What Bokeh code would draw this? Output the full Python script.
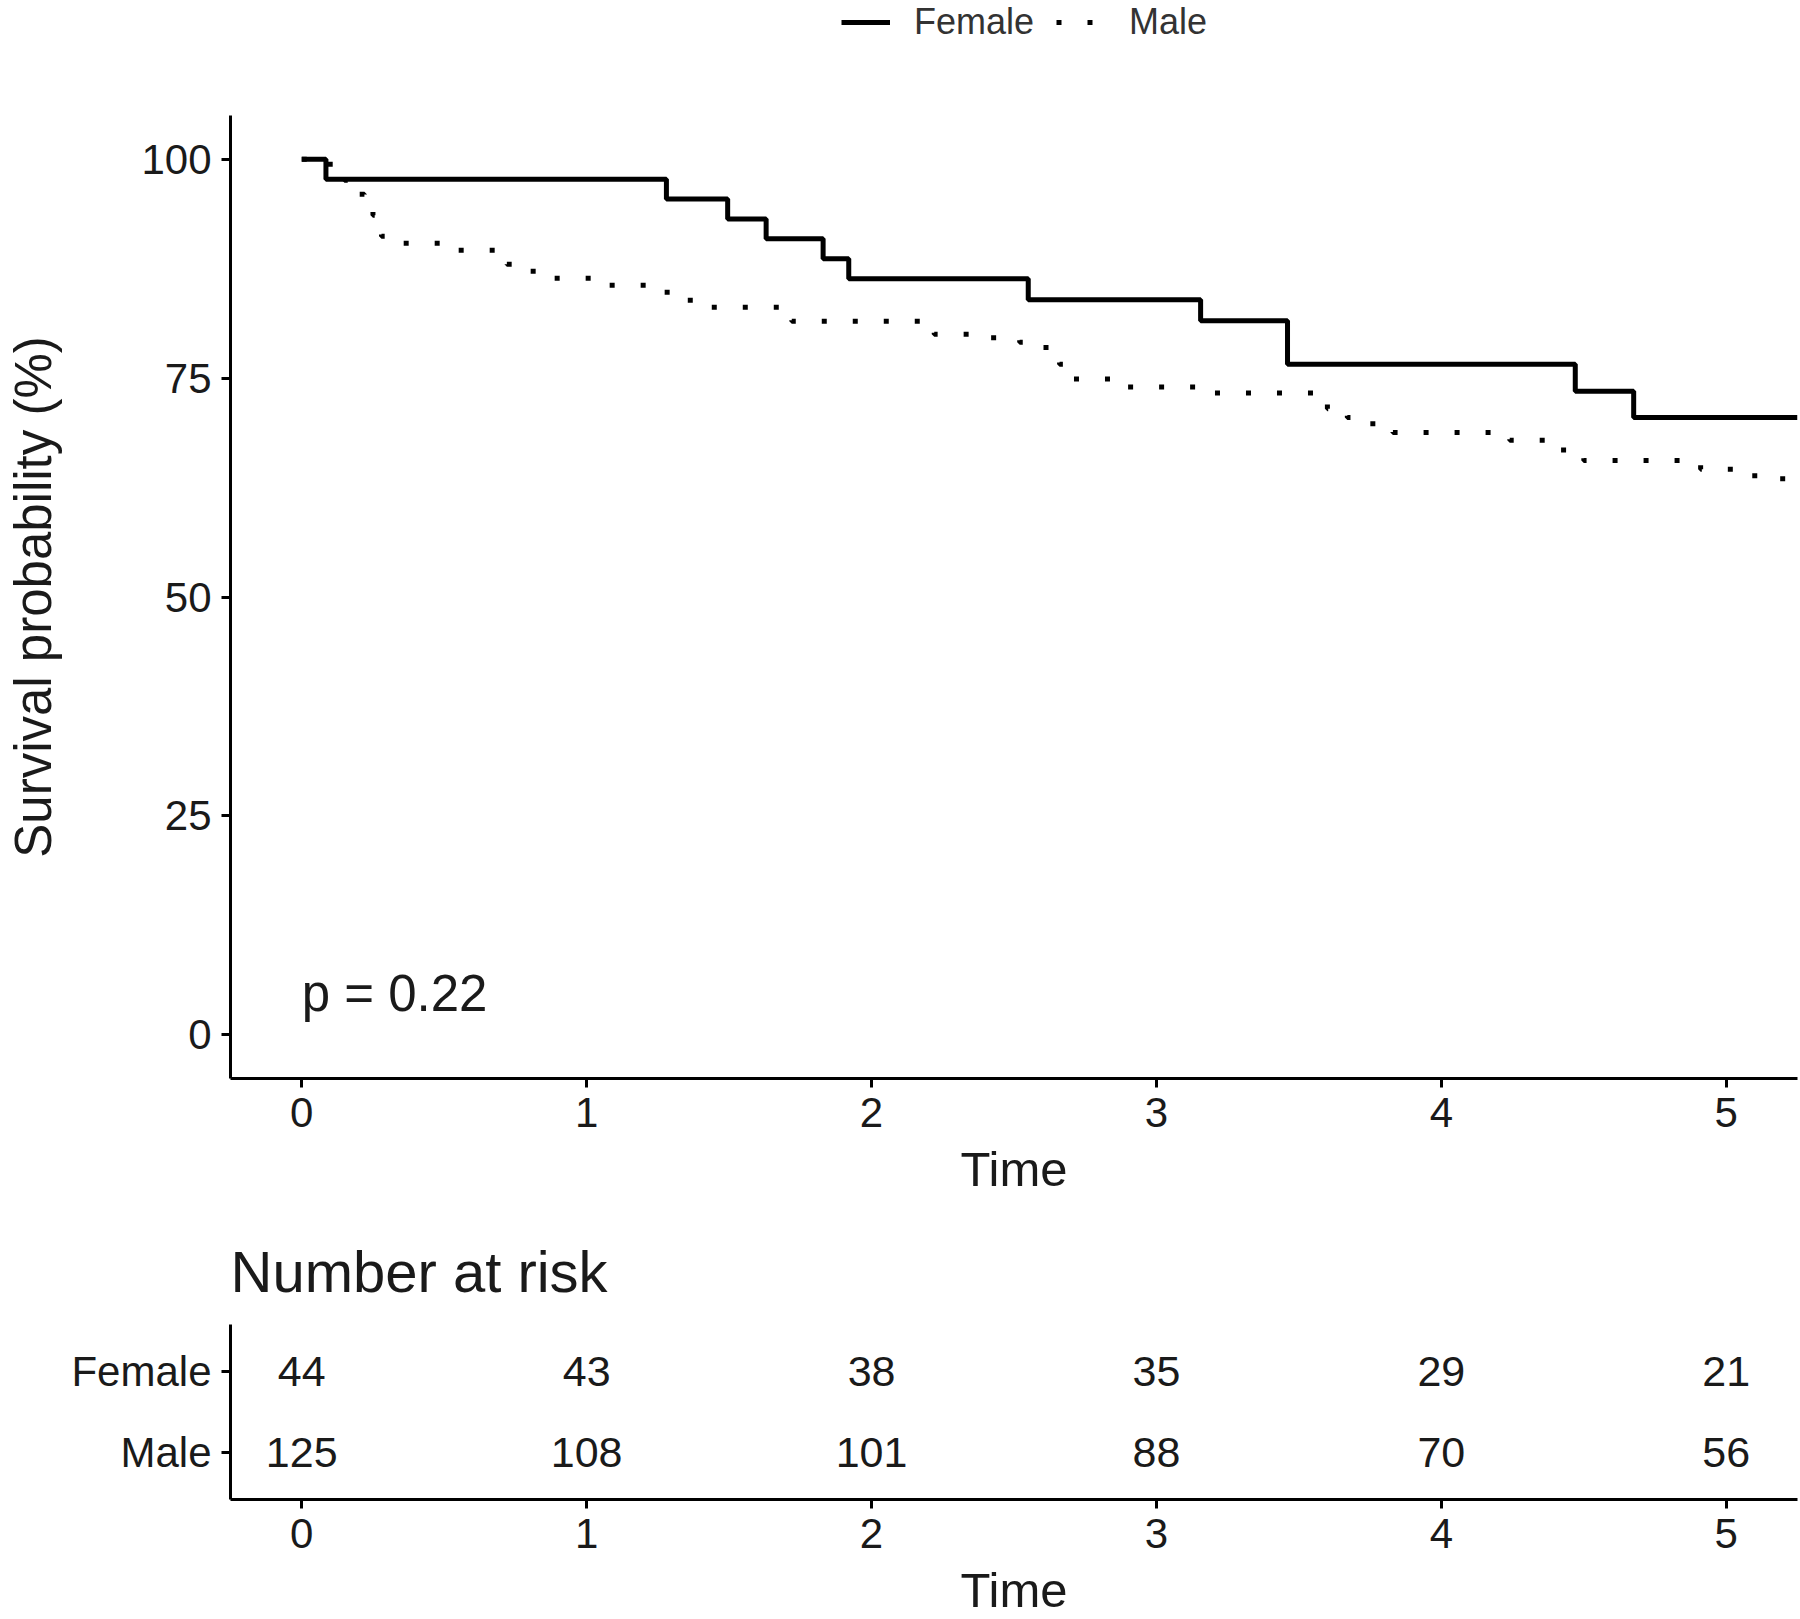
from bokeh.plotting import figure
from bokeh.models import Range1d, Legend, LegendItem, FixedTicker, Title
from bokeh.layouts import column
from bokeh.embed import file_html
from bokeh.resources import INLINE
from bokeh.core.properties import value

# ---- data ----
groups = ["Female", "Male"]
female_time = [0, 0.085, 1.28, 1.495, 1.63, 1.83, 1.92, 2.55, 3.155, 3.46, 4.47, 4.675, 5.25]
female_surv = [100, 97.73, 95.45, 93.18, 90.91, 88.64, 86.36, 83.96, 81.56, 76.6, 73.5, 70.5, 70.5]
male_time = [0, 0.10, 0.15, 0.18, 0.22, 0.25, 0.28, 0.35, 0.50, 0.72, 0.80, 0.88, 1.08, 1.26,
             1.34, 1.42, 1.72, 2.22, 2.40, 2.52, 2.60, 2.66, 2.71, 2.88, 3.18, 3.60, 3.67,
             3.75, 3.83, 4.24, 4.42, 4.50, 4.91, 5.10, 5.25]
male_surv = [100, 98.4, 97.6, 96.0, 95.2, 93.6, 91.2, 90.4, 89.6, 88.0, 87.2, 86.4, 85.6, 84.8,
             83.9, 83.1, 81.5, 80.0, 79.6, 79.1, 78.5, 76.6, 74.9, 74.0, 73.3, 71.5, 70.5,
             69.8, 68.8, 67.9, 66.8, 65.6, 64.6, 63.5, 63.5]
risk_time = [0, 1, 2, 3, 4, 5]
risk_female = [44, 43, 38, 35, 29, 21]
risk_male = [125, 108, 101, 88, 70, 56]
y_ticks = [0, 25, 50, 75, 100]
x_ticks = [0, 1, 2, 3, 4, 5]
p_text = "p = 0.22"
p_pos = (0.0, 4.7)

FONT = "Liberation Sans"
TXT = "#1a1a1a"
FEMALE_STYLE = dict(line_color="black", line_width=5)
MALE_STYLE = dict(line_color="black", line_width=5, line_dash="5 26", line_cap="butt")


def style_axes(fig):
    for ax in (fig.xaxis[0], fig.yaxis[0]):
        ax.axis_line_width = 3
        ax.axis_line_color = "black"
        ax.major_tick_line_width = 3
        ax.major_tick_line_color = "black"
        ax.major_tick_out = 9
        ax.major_tick_in = 0
        ax.minor_tick_line_color = None
        ax.major_label_text_font = FONT
        ax.major_label_text_font_size = "42px"
        ax.major_label_text_color = TXT
        ax.axis_label_text_font = FONT
        ax.axis_label_text_font_style = "normal"
        ax.axis_label_text_color = TXT


# ---- main survival plot ----
p = figure(width=1798, height=1085, x_range=Range1d(-0.25, 5.25), y_range=Range1d(-5, 105),
           output_backend="svg", toolbar_location=None,
           min_border_left=230, min_border_right=1, min_border_top=0, min_border_bottom=122)
p.outline_line_color = None
p.xgrid.visible = False
p.ygrid.visible = False

p.step(female_time, female_surv, mode="after", **FEMALE_STYLE)
p.step(male_time, male_surv, mode="after", **MALE_STYLE)

p.text(x=[p_pos[0]], y=[p_pos[1]], text=[p_text], text_font=value(FONT),
       text_font_size="51px", text_color=TXT, text_align="left", text_baseline="middle")

style_axes(p)
p.xaxis.ticker = FixedTicker(ticks=x_ticks)
p.xaxis.axis_label = "Time"
p.xaxis.axis_label_text_font_size = "49px"
p.xaxis.major_label_standoff = 10
p.xaxis.axis_label_standoff = 12

p.yaxis.ticker = FixedTicker(ticks=y_ticks)
p.yaxis.axis_label = "Survival probability (%)"
p.yaxis.axis_label_text_font_size = "51px"
p.yaxis.major_label_standoff = 10
p.yaxis.axis_label_standoff = 76

# ---- legend strip above the plot (same curves, drawn outside its visible range) ----
lg = figure(width=1798, height=115, x_range=p.x_range, y_range=Range1d(0, 1),
            x_axis_type=None, y_axis_type=None, output_backend="svg", toolbar_location=None,
            min_border_left=230, min_border_right=1, min_border_top=0, min_border_bottom=0)
lg.outline_line_color = None
lg.grid.visible = False
lf_r = lg.step(female_time, female_surv, mode="after", **FEMALE_STYLE)
lm_r = lg.step(male_time, male_surv, mode="after", **MALE_STYLE)
legend = Legend(items=[LegendItem(label=groups[0], renderers=[lf_r]),
                       LegendItem(label=groups[1], renderers=[lm_r])],
                orientation="horizontal", location=(611, 72),
                label_text_font=FONT, label_text_font_size="36px", label_text_color="#333333",
                glyph_width=49, glyph_height=30, label_standoff=24, spacing=22,
                padding=0, margin=0, border_line_color=None, background_fill_alpha=0)
lg.add_layout(legend)

# ---- number at risk table ----
t = figure(width=1798, height=419, x_range=p.x_range, y_range=Range1d(-0.59, 1.59),
           output_backend="svg", toolbar_location=None,
           min_border_left=230, min_border_right=1, min_border_top=124, min_border_bottom=114)
t.outline_line_color = None
t.xgrid.visible = False
t.ygrid.visible = False

t.text(x=risk_time, y=[1] * len(risk_time), text=[str(v) for v in risk_female],
       text_font=value(FONT), text_font_size="43px", text_color=TXT,
       text_align="center", text_baseline="middle")
t.text(x=risk_time, y=[0] * len(risk_time), text=[str(v) for v in risk_male],
       text_font=value(FONT), text_font_size="43px", text_color=TXT,
       text_align="center", text_baseline="middle")

style_axes(t)
t.xaxis.ticker = FixedTicker(ticks=x_ticks)
t.xaxis.axis_label = "Time"
t.xaxis.axis_label_text_font_size = "49px"
t.xaxis.major_label_standoff = 10
t.xaxis.axis_label_standoff = 12

t.yaxis.ticker = FixedTicker(ticks=[0, 1])
t.yaxis.major_label_overrides = {0: groups[1], 1: groups[0]}
t.yaxis.major_label_standoff = 10

t.title = Title(text="Number at risk", text_font=FONT, text_font_size="58px",
                text_font_style="normal", text_color=TXT, align="left", standoff=42)

layout = column(lg, p, t, spacing=0)
open("out.html", "w").write(file_html(layout, INLINE))
